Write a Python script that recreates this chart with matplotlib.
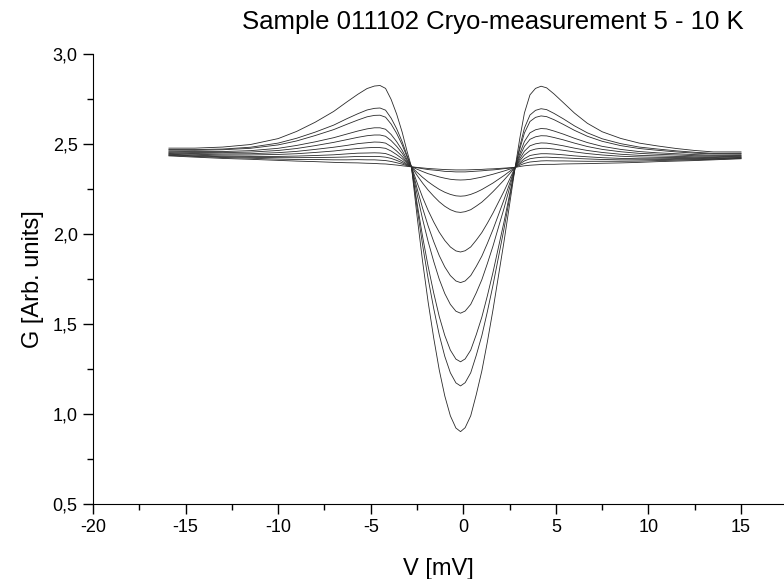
import matplotlib
matplotlib.use("Agg")
import matplotlib.pyplot as plt
from matplotlib.ticker import MultipleLocator, FuncFormatter

plt.rcParams['font.family'] = ['Liberation Sans', 'DejaVu Sans']

# bias voltage grid (mV)
V = [-15.9, -14.5, -13.0, -11.5, -10.0, -9.0, -8.0, -7.0, -6.3, -5.7, -5.2, -4.8, -4.5, -4.2, -3.9, -3.6, -3.3, -3.05,
     -2.8, -2.5, -2.2, -1.9, -1.6, -1.3, -1.0, -0.7, -0.4, -0.15, 0.1, 0.4, 0.7, 1.0, 1.3, 1.6, 1.9, 2.2, 2.5, 2.8,
     3.05, 3.3, 3.6, 3.9, 4.2, 4.5, 4.9, 5.4, 6.0, 6.7, 7.5, 8.5, 9.5, 10.5, 11.5, 12.5, 13.5, 15.0]

# conductance curves, coldest (deepest gap) first
G1 = [2.477, 2.477, 2.483, 2.497, 2.530, 2.570, 2.621, 2.681, 2.733, 2.776, 2.808, 2.822, 2.825, 2.809, 2.748, 2.666, 2.565, 2.464,
      2.373, 2.101, 1.848, 1.622, 1.423, 1.245, 1.100, 0.990, 0.922, 0.902, 0.924, 0.990, 1.108, 1.239, 1.401, 1.577, 1.768, 1.959, 2.164, 2.370,
      2.531, 2.672, 2.773, 2.809, 2.821, 2.812, 2.778, 2.730, 2.672, 2.615, 2.568, 2.531, 2.505, 2.489, 2.475, 2.464, 2.456, 2.456]
G2 = [2.470, 2.469, 2.472, 2.482, 2.505, 2.532, 2.566, 2.605, 2.640, 2.668, 2.689, 2.698, 2.700, 2.688, 2.644, 2.585, 2.512, 2.439,
      2.373, 2.148, 1.939, 1.752, 1.587, 1.440, 1.320, 1.229, 1.173, 1.156, 1.174, 1.229, 1.326, 1.435, 1.569, 1.714, 1.872, 2.030, 2.200, 2.370,
      2.486, 2.588, 2.661, 2.687, 2.696, 2.691, 2.670, 2.640, 2.601, 2.562, 2.529, 2.502, 2.483, 2.472, 2.462, 2.454, 2.448, 2.449]
G3 = [2.466, 2.465, 2.468, 2.476, 2.495, 2.517, 2.547, 2.580, 2.609, 2.633, 2.651, 2.659, 2.660, 2.649, 2.611, 2.559, 2.495, 2.431,
      2.373, 2.173, 1.986, 1.820, 1.673, 1.542, 1.436, 1.355, 1.305, 1.290, 1.306, 1.355, 1.441, 1.538, 1.657, 1.786, 1.927, 2.068, 2.219, 2.370,
      2.472, 2.561, 2.625, 2.648, 2.656, 2.652, 2.635, 2.609, 2.576, 2.543, 2.515, 2.491, 2.475, 2.465, 2.456, 2.449, 2.445, 2.446]
G4 = [2.460, 2.458, 2.458, 2.463, 2.476, 2.492, 2.512, 2.535, 2.555, 2.572, 2.584, 2.590, 2.590, 2.582, 2.553, 2.513, 2.465, 2.416,
      2.373, 2.223, 2.083, 1.958, 1.848, 1.749, 1.669, 1.609, 1.571, 1.560, 1.572, 1.609, 1.673, 1.746, 1.836, 1.932, 2.038, 2.143, 2.257, 2.370,
      2.447, 2.514, 2.562, 2.579, 2.586, 2.584, 2.572, 2.555, 2.532, 2.508, 2.487, 2.470, 2.458, 2.451, 2.446, 2.441, 2.438, 2.440]
G5 = [2.455, 2.453, 2.452, 2.455, 2.464, 2.475, 2.491, 2.509, 2.524, 2.537, 2.546, 2.550, 2.550, 2.543, 2.519, 2.487, 2.448, 2.408,
      2.373, 2.254, 2.144, 2.045, 1.958, 1.880, 1.817, 1.769, 1.739, 1.730, 1.739, 1.769, 1.820, 1.877, 1.948, 2.024, 2.107, 2.191, 2.280, 2.370,
      2.432, 2.487, 2.526, 2.540, 2.546, 2.545, 2.536, 2.523, 2.505, 2.486, 2.470, 2.457, 2.448, 2.443, 2.439, 2.435, 2.434, 2.436]
G6 = [2.451, 2.447, 2.445, 2.446, 2.452, 2.459, 2.470, 2.482, 2.492, 2.502, 2.507, 2.511, 2.510, 2.505, 2.486, 2.461, 2.431, 2.400,
      2.373, 2.286, 2.204, 2.131, 2.067, 2.010, 1.964, 1.928, 1.906, 1.900, 1.907, 1.928, 1.966, 2.008, 2.060, 2.116, 2.177, 2.238, 2.304, 2.370,
      2.418, 2.460, 2.490, 2.501, 2.506, 2.505, 2.499, 2.490, 2.477, 2.464, 2.453, 2.443, 2.437, 2.434, 2.431, 2.429, 2.429, 2.432]
G7 = [2.447, 2.443, 2.439, 2.439, 2.442, 2.446, 2.453, 2.461, 2.469, 2.475, 2.479, 2.481, 2.480, 2.476, 2.461, 2.441, 2.418, 2.394,
      2.373, 2.326, 2.283, 2.244, 2.210, 2.179, 2.154, 2.135, 2.123, 2.120, 2.124, 2.135, 2.155, 2.177, 2.205, 2.235, 2.267, 2.300, 2.335, 2.370,
      2.407, 2.439, 2.463, 2.472, 2.476, 2.476, 2.472, 2.465, 2.456, 2.447, 2.439, 2.432, 2.428, 2.426, 2.425, 2.424, 2.425, 2.429]
G8 = [2.443, 2.438, 2.433, 2.431, 2.431, 2.433, 2.436, 2.440, 2.445, 2.449, 2.450, 2.451, 2.450, 2.447, 2.436, 2.422, 2.405, 2.388,
      2.373, 2.343, 2.315, 2.290, 2.268, 2.248, 2.232, 2.220, 2.212, 2.210, 2.212, 2.220, 2.232, 2.247, 2.265, 2.283, 2.304, 2.325, 2.348, 2.370,
      2.396, 2.419, 2.436, 2.442, 2.446, 2.446, 2.444, 2.440, 2.434, 2.429, 2.424, 2.420, 2.418, 2.418, 2.419, 2.419, 2.421, 2.425]
G9 = [2.440, 2.434, 2.429, 2.426, 2.424, 2.424, 2.425, 2.426, 2.428, 2.431, 2.431, 2.431, 2.430, 2.427, 2.420, 2.409, 2.396, 2.384,
      2.373, 2.360, 2.347, 2.335, 2.326, 2.317, 2.310, 2.304, 2.301, 2.300, 2.301, 2.304, 2.310, 2.316, 2.324, 2.332, 2.341, 2.350, 2.360, 2.370,
      2.389, 2.406, 2.418, 2.423, 2.426, 2.427, 2.425, 2.423, 2.420, 2.417, 2.414, 2.412, 2.412, 2.413, 2.415, 2.415, 2.418, 2.423]
G10 = [2.437, 2.431, 2.425, 2.421, 2.416, 2.414, 2.414, 2.412, 2.412, 2.413, 2.412, 2.412, 2.410, 2.408, 2.403, 2.396, 2.388, 2.380,
       2.373, 2.368, 2.363, 2.358, 2.355, 2.352, 2.348, 2.347, 2.345, 2.345, 2.345, 2.347, 2.349, 2.351, 2.354, 2.356, 2.359, 2.363, 2.366, 2.370,
       2.382, 2.392, 2.400, 2.403, 2.406, 2.407, 2.406, 2.406, 2.405, 2.404, 2.404, 2.404, 2.405, 2.408, 2.410, 2.412, 2.415, 2.420]
G11 = [2.434, 2.427, 2.420, 2.415, 2.409, 2.405, 2.402, 2.398, 2.396, 2.395, 2.393, 2.392, 2.390, 2.389, 2.386, 2.383, 2.379, 2.376,
       2.373, 2.370, 2.367, 2.364, 2.362, 2.360, 2.358, 2.357, 2.356, 2.356, 2.356, 2.357, 2.358, 2.359, 2.361, 2.362, 2.364, 2.366, 2.368, 2.370,
       2.375, 2.379, 2.382, 2.384, 2.386, 2.387, 2.387, 2.389, 2.390, 2.391, 2.393, 2.395, 2.398, 2.402, 2.405, 2.408, 2.412, 2.418]

curves = [G1, G2, G3, G4, G5, G6, G7, G8, G9, G10, G11]

fig = plt.figure(figsize=(7.84, 5.79), dpi=100)
ax = fig.add_axes([93 / 784, 75 / 579, 691 / 784, 450 / 579])

for g in curves:
    ax.plot(V, g, color='#2a2a2a', lw=0.6)

ax.set_xlim(-20, 17.32)
ax.set_ylim(0.5, 3.0)
ax.xaxis.set_major_locator(MultipleLocator(5))
ax.xaxis.set_minor_locator(MultipleLocator(2.5))
ax.yaxis.set_major_locator(MultipleLocator(0.5))
ax.yaxis.set_minor_locator(MultipleLocator(0.25))
ax.yaxis.set_major_formatter(FuncFormatter(lambda v, p: f"{v:.1f}".replace('.', ',')))
ax.xaxis.set_major_formatter(FuncFormatter(lambda v, p: f"{v:.0f}"))

ax.spines['top'].set_visible(False)
ax.spines['right'].set_visible(False)
ax.tick_params(which='major', direction='out', length=7, width=1, labelsize=13, pad=4)
ax.tick_params(which='minor', direction='out', length=4, width=1)

ax.set_xlabel('V [mV]', fontsize=17, labelpad=16)
ax.set_ylabel('G [Arb. units]', fontsize=17, labelpad=6)
fig.text(0.628, 0.962, 'Sample 011102 Cryo-measurement 5 - 10 K', fontsize=18.5,
         ha='center', va='center')

fig.savefig('out.png', dpi=100)
